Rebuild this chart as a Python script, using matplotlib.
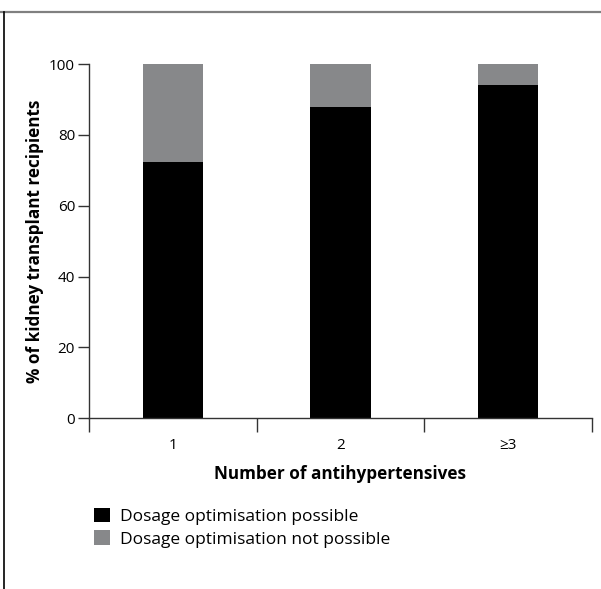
import matplotlib
matplotlib.use("Agg")
import matplotlib.pyplot as plt
from matplotlib.patches import Patch
from matplotlib.lines import Line2D

plt.rcParams['font.family'] = ['Open Sans', 'DejaVu Sans']

# data
categories = ["1", "2", "\u22653"]
possible = [72.3, 87.8, 94.0]
not_possible = [100 - v for v in possible]
series_names = ["Dosage optimisation possible", "Dosage optimisation not possible"]
colors = ["#000000", "#87888a"]

fig = plt.figure(figsize=(6.01, 5.89), dpi=100)
ax = fig.add_axes([0.148, 0.290, 0.837, 0.601])

x = list(range(len(categories)))
ax.bar(x, possible, width=0.36, color=colors[0], linewidth=0)
ax.bar(x, not_possible, width=0.36, bottom=possible, color=colors[1], linewidth=0)

ax.set_xlim(-0.5, len(categories) - 0.5)
ax.set_ylim(0, 100)

# y axis
ax.set_yticks([0, 20, 40, 60, 80, 100])
ax.set_yticklabels(["0", "20", "40", "60", "80", "100"])
ax.tick_params(axis="y", direction="out", length=8, width=1, color="#333333",
               labelsize=11, pad=2)

# x axis: tick marks at category boundaries, labels at centres
ax.set_xticks([-0.5, 0.5, 1.5, 2.5])
ax.set_xticklabels([])
ax.set_xticks(x, minor=True)
ax.set_xticklabels(categories, minor=True)
ax.tick_params(axis="x", which="major", direction="out", length=10, width=1, color="#333333")
ax.tick_params(axis="x", which="minor", length=0, labelsize=11, pad=14)

for s in ["top", "right"]:
    ax.spines[s].set_visible(False)
for s in ["left", "bottom"]:
    ax.spines[s].set_color("#333333")
    ax.spines[s].set_linewidth(1)

ax.set_ylabel("% of kidney transplant recipients", fontsize=12.3, fontweight="bold", labelpad=4)
ax.set_xlabel("Number of antihypertensives", fontsize=12.3, fontweight="bold", labelpad=9)

handles = [Patch(facecolor=c, edgecolor="none") for c in colors]
fig.legend(handles, series_names, loc="upper left", bbox_to_anchor=(0.145, 0.150),
           bbox_transform=fig.transFigure, frameon=False, fontsize=12.5,
           handlelength=0.9, handleheight=0.9, handletextpad=0.6, labelspacing=0.32,
           borderaxespad=0)

# frame lines of the figure panel
fig.add_artist(Line2D([0, 1], [1 - 11.5 / 589] * 2, color="#808080", linewidth=1.6,
                      transform=fig.transFigure))
fig.add_artist(Line2D([4 / 601] * 2, [0, 1 - 11.5 / 589], color="#000000", linewidth=1.2,
                      transform=fig.transFigure))

fig.savefig("out.png", dpi=100)
